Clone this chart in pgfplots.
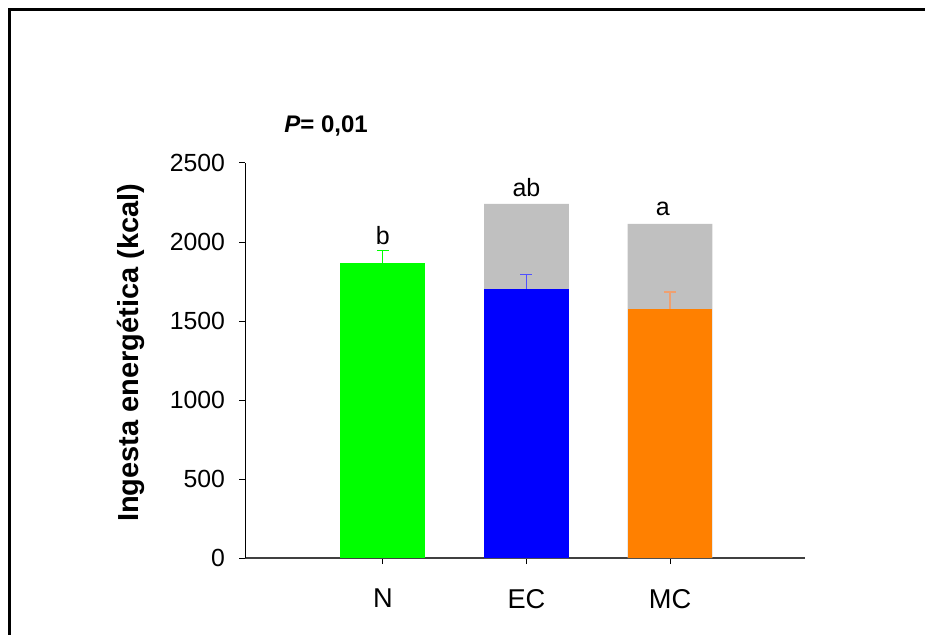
\documentclass[border=0pt]{standalone}
\usepackage{pgfplots}
\pgfplotsset{compat=1.18}
\usepackage{fontspec}
\setmainfont{Liberation Sans}
\definecolor{cgreen}{HTML}{00FF00}
\definecolor{cblue}{HTML}{0000FF}
\definecolor{corange}{HTML}{FF8000}
\definecolor{cgrey}{HTML}{C0C0C0}
\definecolor{ebblue}{HTML}{5050FF}
\definecolor{eborange}{HTML}{F0A070}
\begin{document}
\begin{tikzpicture}
\useasboundingbox (0,0) rectangle (462.5pt,-317.5pt);
\draw[line width=1.5pt] (4.5pt,-320pt) -- (4.5pt,-4.75pt) -- (465pt,-4.75pt);
\begin{axis}[
  at={(122.5pt,-279pt)}, anchor=south west,
  scale only axis, width=280pt, height=197.5pt,
  xmin=0.04, xmax=3.94, ymin=0, ymax=2500,
  axis x line=bottom, axis y line=left,
  x axis line style={-, line width=1pt, draw=black!75},
  y axis line style={-, line width=0.5pt},
  xtick={1,2,3}, xticklabels={N,EC,MC},
  ytick={0,500,1000,1500,2000,2500},
  tick align=outside, major tick length=3pt,
  tick style={black, line width=0.5pt},
  /pgf/number format/assume math mode=true,
  /pgf/number format/1000 sep={},
  yticklabel style={font=\fontsize{12.4}{14}\selectfont, xshift=-3.5pt},
  xticklabel style={font=\fontsize{13.6}{16}\selectfont, yshift=-9pt},
  ylabel={Ingesta energética (kcal)},
  every axis y label/.style={at={(axis description cs:0,0.52)}, xshift=-57pt, rotate=90, anchor=center, font=\bfseries\fontsize{14.5}{17}\selectfont},
  ybar, bar width=0.59, bar shift=0pt,
  clip=false,
]
\addplot[fill=cgrey, draw=none] coordinates {(2,2241) (3,2114)};
\addplot[fill=cgreen, draw=none, error bars/.cd, y dir=plus, y explicit, error bar style={cgreen, line width=0.6pt}, error mark options={cgreen, line width=0.6pt, mark size=3pt, rotate=90}]
  coordinates {(1,1867) +- (0,80)};
\addplot[fill=cblue, draw=none, error bars/.cd, y dir=plus, y explicit, error bar style={ebblue, line width=0.6pt}, error mark options={ebblue, line width=0.6pt, mark size=3pt, rotate=90}]
  coordinates {(2,1703) +- (0,92)};
\addplot[fill=corange, draw=none, error bars/.cd, y dir=plus, y explicit, error bar style={eborange, line width=0.6pt}, error mark options={eborange, line width=0.6pt, mark size=3pt, rotate=90}]
  coordinates {(3,1576) +- (0,108)};
\node[font=\fontsize{12.5}{14}\selectfont, anchor=base] at (axis cs:1,1985) {b};
\node[font=\fontsize{12.5}{14}\selectfont, anchor=base] at (axis cs:2,2290) {ab};
\node[font=\fontsize{12.5}{14}\selectfont, anchor=base] at (axis cs:2.95,2165) {a};
\end{axis}
\node[anchor=base west, font=\bfseries\fontsize{12}{14}\selectfont, inner sep=0pt] at (142pt,-66.5pt) {\textit{P}= 0,01};
\end{tikzpicture}
\end{document}
